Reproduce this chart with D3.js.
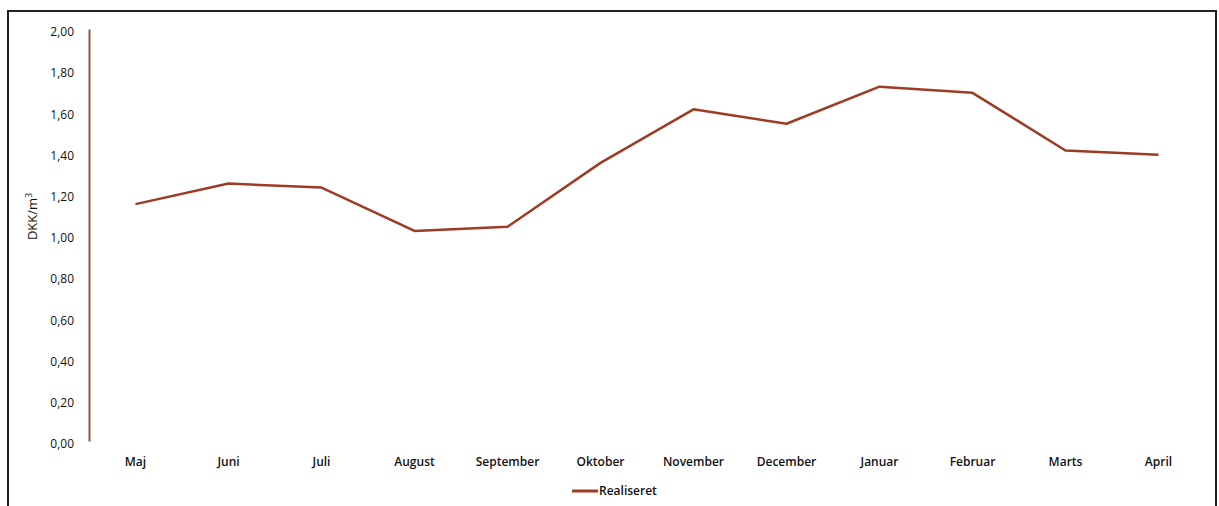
<!DOCTYPE html>
<html>
<head>
<meta charset="utf-8">
<script src="https://cdn.jsdelivr.net/npm/d3@7"></script>
<style>
  body { margin: 0; background: #fff; }
  text { font-family: "Open Sans", sans-serif; fill: #111; }
</style>
</head>
<body>
<svg id="chart" width="1219" height="506"></svg>
<script>
var months = ["Maj", "Juni", "Juli", "August", "September", "Oktober", "November", "December", "Januar", "Februar", "Marts", "April"];
var realiseret = [1.15, 1.25, 1.23, 1.02, 1.04, 1.35, 1.61, 1.54, 1.72, 1.69, 1.41, 1.39];
var yTicks = [0, 0.2, 0.4, 0.6, 0.8, 1.0, 1.2, 1.4, 1.6, 1.8, 2.0];

var svg = d3.select("#chart"),
    margin = { top: 29, left: 89, right: 14, bottom: 65 },
    width = +svg.attr("width") - margin.left - margin.right,
    height = +svg.attr("height") - margin.top - margin.bottom;

// frame round the chart
svg.append("path")
    .attr("d", "M8,506 V11 H1216 V506")
    .attr("fill", "none")
    .attr("stroke", "#222")
    .attr("stroke-width", 2);

var x = d3.scaleBand().domain(months).range([0, width]);
var y = d3.scaleLinear().domain([0, 2]).range([height, 0]);

var g = svg.append("g")
    .attr("transform", "translate(" + margin.left + "," + margin.top + ")");

// y axis
var yAxis = g.append("g")
    .call(d3.axisLeft(y).tickValues(yTicks).tickSize(0).tickPadding(15)
        .tickFormat(function (d) { return d3.format(".2f")(d).replace(".", ","); }));
yAxis.select(".domain").attr("stroke", "#8c5a48").attr("stroke-width", 2);
yAxis.selectAll("text").style("font-size", "12px").attr("dy", "0.55em");

// x labels
var xAxis = g.append("g")
    .attr("transform", "translate(0," + height + ")")
    .call(d3.axisBottom(x).tickSize(0).tickPadding(16));
xAxis.select(".domain").remove();
xAxis.selectAll("text").style("font-size", "12px").style("font-weight", "600");

// y title
g.append("text")
    .attr("transform", "translate(-52," + y(1.09) + ") rotate(-90)")
    .attr("text-anchor", "middle")
    .style("font-size", "13px")
    .html("DKK/m<tspan dy='-5' font-size='9'>3</tspan>");

var line = d3.line()
    .x(function (d, i) { return x(months[i]) + x.bandwidth() / 2; })
    .y(function (d) { return y(d); });

g.append("path")
    .datum(realiseret)
    .attr("fill", "none")
    .attr("stroke", "#9e3b24")
    .attr("stroke-width", 2.5)
    .attr("stroke-linejoin", "round")
    .attr("d", line);

// legend
var legend = svg.append("g").attr("transform", "translate(572,491)");
legend.append("line")
    .attr("x1", 0).attr("x2", 26)
    .attr("stroke", "#9e3b24").attr("stroke-width", 3);
legend.append("text")
    .attr("x", 27).attr("dy", "0.35em")
    .style("font-size", "12px").style("font-weight", "600")
    .text("Realiseret");
</script>
</body>
</html>
